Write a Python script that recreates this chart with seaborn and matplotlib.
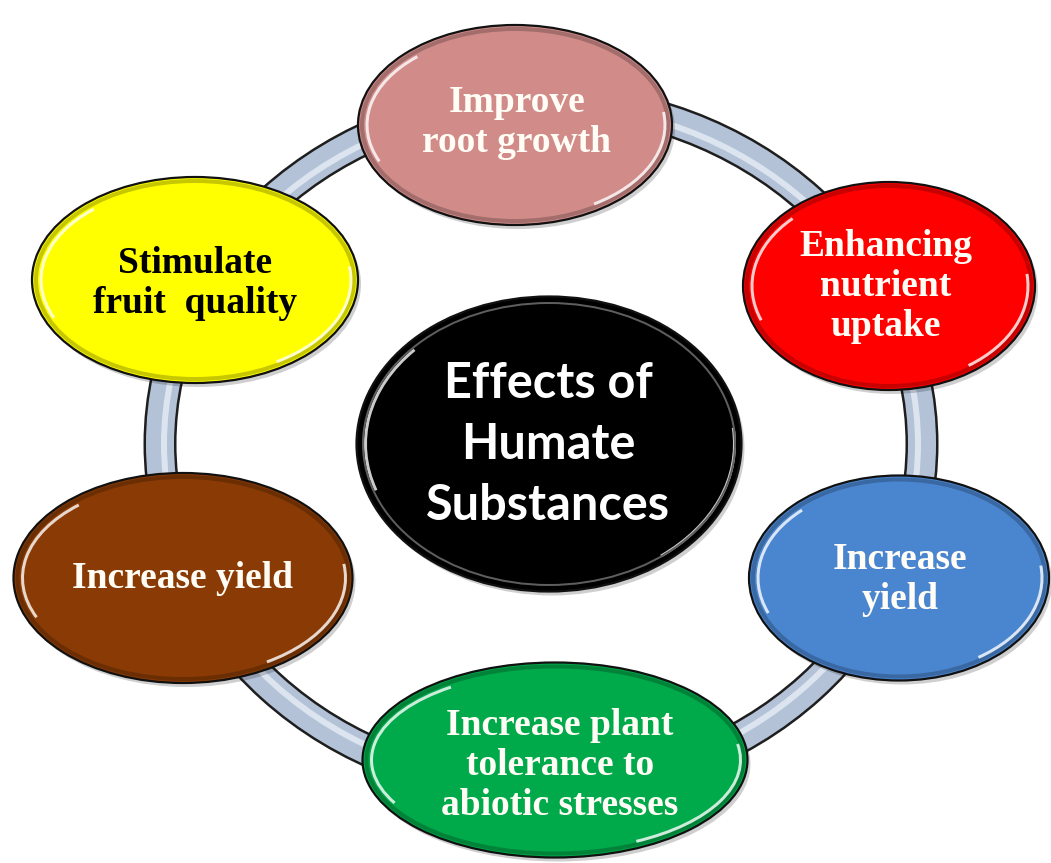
import seaborn as sns
import matplotlib.pyplot as plt
from matplotlib.patches import Ellipse, Arc

# node texts and colours
labels = ["Improve\nroot growth", "Enhancing\nnutrient\nuptake", "Increase\nyield",
          "Increase plant\ntolerance to\nabiotic stresses", "Increase yield",
          "Stimulate\nfruit  quality"]
fill_colors = ["#d18c8a", "#ff0000", "#4a86d0", "#00a94a", "#8a3b05", "#ffff00"]
text_colors = ["#fffdf5", "#fffdf5", "#fffdf5", "#fffdf5", "#fffdf5", "#000000"]
centre_label = "Effects of\nHumate\nSubstances"

# layout (pixel units of the picture)
node_xy = [(515, 125), (889, 286), (899, 578), (555, 760), (183, 578), (195, 280)]
node_wh = [(314, 200), (292, 208), (300, 205), (385, 195), (339, 210), (326, 206)]
text_mid = [(517, 119), (886, 283), (900, 576), (560, 762), (182, 575), (195, 280)]

sns.set_theme(style="white")
fig = plt.figure(figsize=(10.51, 8.63), dpi=100)
ax = fig.add_axes([0, 0, 1, 1])
ax.set_xlim(0, 1051)
ax.set_ylim(863, 0)
ax.axis("off")

px = 0.72  # points per pixel

# connecting ring
ring_c, ring_w, ring_h = (541, 444), 762, 688
ax.add_patch(Ellipse(ring_c, ring_w, ring_h, fill=False, ec="#1e1e1e", lw=33 * px, zorder=1))
ax.add_patch(Ellipse(ring_c, ring_w, ring_h, fill=False, ec="#b3c2d7", lw=28 * px, zorder=1))
ax.add_patch(Ellipse(ring_c, ring_w - 8, ring_h - 8, fill=False, ec="#dce4ef", lw=6 * px, zorder=1))


def glossy(cx, cy, w, h, col, z):
    ax.add_patch(Ellipse((cx + 3, cy + 4), w, h, fc="#00000030", ec="none", zorder=z))
    ax.add_patch(Ellipse((cx, cy), w, h, fc=col, ec="#111111", lw=1.6, zorder=z))
    ax.add_patch(Ellipse((cx, cy), w - 8, h - 8, fill=False, ec="#00000038", lw=4 * px, zorder=z))
    ax.add_patch(Arc((cx, cy), w - 18, h - 18, theta1=165, theta2=215,
                     color="white", lw=3 * px, alpha=0.8, zorder=z))
    ax.add_patch(Arc((cx, cy), w - 14, h - 14, theta1=-5, theta2=45,
                     color="white", lw=3 * px, alpha=0.8, zorder=z))


def put_lines(text, xm, ym, spacing, cap, **kw):
    lines = text.split("\n")
    n = len(lines)
    first = ym - ((n - 1) * spacing - cap) / 2
    for i, line in enumerate(lines):
        ax.text(xm, first + i * spacing, line, ha="center", va="baseline", **kw)


for lab, col, tcol, (cx, cy), (w, h), (tx, ty) in zip(labels, fill_colors, text_colors,
                                                       node_xy, node_wh, text_mid):
    glossy(cx, cy, w, h, col, 3)
    put_lines(lab, tx, ty, 40, 25, color=tcol, fontsize=27, fontweight="bold",
              family="Liberation Serif", zorder=5)

# centre node
glossy(549, 444, 385, 295, "#000000", 3)
ax.add_patch(Ellipse((549, 444), 372, 282, fill=False, ec="#5e5e5e", lw=2 * px, zorder=4))
put_lines(centre_label, 548, 442, 61, 34, color="white", fontsize=35, fontweight="bold",
          family="Lato", zorder=5)

fig.savefig("out.png", dpi=100, facecolor="white")
